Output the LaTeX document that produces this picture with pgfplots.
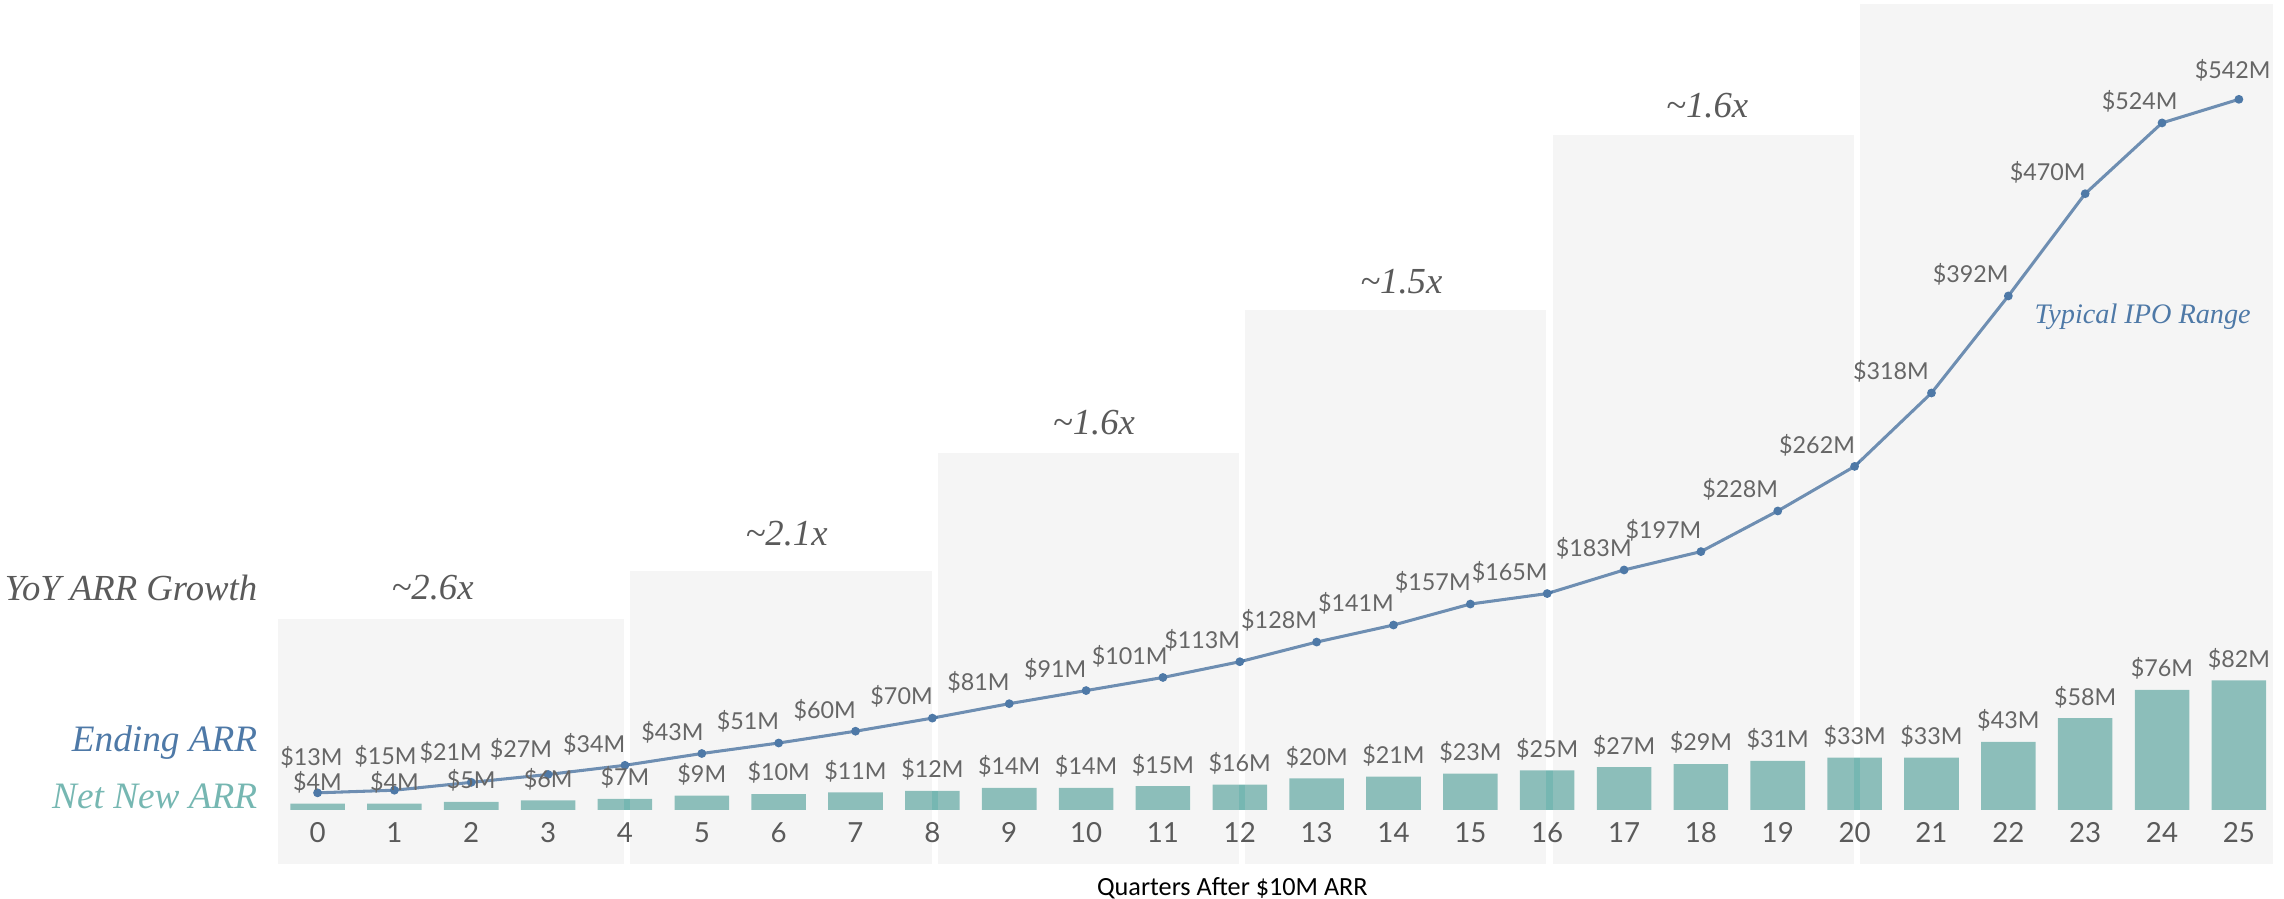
\documentclass[border=0pt]{standalone}
\usepackage{fontspec}
\usepackage{pgfplots}
\pgfplotsset{compat=1.18}
\usepackage{pgfplotstable}
\newfontfamily\lato{Lato}
\newfontfamily\seriff{Liberation Serif}
\newfontfamily\carlito{Carlito}
\definecolor{arrteal}{HTML}{76B7B2}
\definecolor{arrblue}{HTML}{4E79A7}
\definecolor{lblgray}{HTML}{666666}
\definecolor{tickgray}{HTML}{5A5A5A}
\definecolor{anngray}{HTML}{5A5A5A}
\definecolor{bandov}{RGB}{214,214,214}

\pgfplotstableread{
q nn arr dx dy
0 4 13 8.5 5
1 4 15 7.5 4.25
2 5 21 3.5 3
3 6 27 1.25 1.35
4 7 34 0 0
5 9 43 0.5 0
6 10 51 0 0
7 11 60 0 0
8 12 70 0 0
9 14 81 0 0
10 14 91 0 0
11 15 101 1.5 0
12 16 113 0 0
13 20 128 0 0
14 21 141 0 0
15 23 157 0 0
16 25 165 0 0
17 27 183 2.5 0
18 29 197 0 0
19 31 228 0 0
20 33 262 0 0
21 33 318 -1 0
22 43 392 0 0
23 58 470 0 0
24 76 524 5.25 0
25 82 542 10.75 2.5
}\datatable

\pgfplotsset{
  baseaxis/.style={
    x=26.38pt, xmin=-0.512, xmax=25.44,
    clip=false,
    /pgf/number format/assume math mode=true,
  },
}

\begin{document}
\begin{tikzpicture}
% bars
\begin{axis}[baseaxis, y=0.5425pt, ymin=-34.101, ymax=509.677, hide axis]
\addplot[ybar, bar width=0.71, bar shift=0pt, fill=arrteal, draw=none] table[x=q,y=nn]{\datatable};
\end{axis}
% line + bands
\begin{axis}[baseaxis, y=0.45pt, ymin=-41.111, ymax=614.444, hide axis]
\addplot[arrblue, line width=1.05pt, mark=*, mark size=0.95pt, mark options={fill=arrblue}] table[x=q,y=arr]{\datatable};
\fill[bandov, fill opacity=0.235] (axis cs:-0.512,-41.111) rectangle (axis cs:3.99,145.56);
\fill[bandov, fill opacity=0.235] (axis cs:4.07,-41.111) rectangle (axis cs:7.99,182.22);
\fill[bandov, fill opacity=0.235] (axis cs:8.07,-41.111) rectangle (axis cs:11.99,272.22);
\fill[bandov, fill opacity=0.235] (axis cs:12.07,-41.111) rectangle (axis cs:15.99,381.11);
\fill[bandov, fill opacity=0.235] (axis cs:16.07,-41.111) rectangle (axis cs:19.99,514.44);
\fill[bandov, fill opacity=0.235] (axis cs:20.07,-41.111) rectangle (axis cs:25.44,614.444);
\addplot[draw=none, mark=none, point meta=y,
  visualization depends on={\thisrow{dx}\as\dx},
  visualization depends on={\thisrow{dy}\as\dy},
  nodes near coords={\$\pgfmathprintnumber{\pgfplotspointmeta}M},
  every node near coord/.append style={anchor=base east, inner sep=0pt,
    xshift={0.3pt+\dx*1pt}, yshift={4.5pt+\dy*1pt},
    font=\lato\fontsize{8.0}{10}\selectfont, text=lblgray}]
  table[x=q,y=arr]{\datatable};
\end{axis}
% labels, ticks and annotations
\begin{axis}[baseaxis, y=0.5425pt, ymin=-34.101, ymax=509.677,
  axis line style={draw=none}, ytick=\empty, xtick={0,...,25},
  major tick length=0pt,
  xticklabel style={font=\lato\fontsize{9.5}{11}\selectfont, text=tickgray, anchor=base, yshift=7.25pt}]
\addplot[draw=none, mark=none, point meta=y,
  nodes near coords={\$\pgfmathprintnumber{\pgfplotspointmeta}M},
  every node near coord/.append style={anchor=base, inner sep=0pt, yshift=4.5pt,
    font=\lato\fontsize{8.0}{10}\selectfont, text=lblgray}]
  table[x=q,y=nn]{\datatable};
\node[anchor=base east, inner sep=0pt, font=\seriff\itshape\fontsize{12.6}{14}\selectfont, text=anngray] at (axis cs:-0.7771,132.72) {YoY ARR Growth};
\node[anchor=base east, inner sep=0pt, font=\seriff\itshape\fontsize{12.8}{14}\selectfont, text=arrblue] at (axis cs:-0.7771,36.87) {Ending ARR};
\node[anchor=base east, inner sep=0pt, font=\seriff\itshape\fontsize{12.8}{14}\selectfont, text=arrteal] at (axis cs:-0.7771,0.92) {Net New ARR};
\node[anchor=base, inner sep=0pt, font=\seriff\itshape\fontsize{12.6}{14}\selectfont, text=anngray] at (axis cs:1.497,133.18) {\textasciitilde2.6x};
\node[anchor=base, inner sep=0pt, font=\seriff\itshape\fontsize{12.6}{14}\selectfont, text=anngray] at (axis cs:6.103,167.28) {\textasciitilde2.1x};
\node[anchor=base, inner sep=0pt, font=\seriff\itshape\fontsize{12.6}{14}\selectfont, text=anngray] at (axis cs:10.102,237.33) {\textasciitilde1.6x};
\node[anchor=base, inner sep=0pt, font=\seriff\itshape\fontsize{12.6}{14}\selectfont, text=anngray] at (axis cs:14.102,326.73) {\textasciitilde1.5x};
\node[anchor=base, inner sep=0pt, font=\seriff\itshape\fontsize{12.6}{14}\selectfont, text=anngray] at (axis cs:18.082,438.25) {\textasciitilde1.6x};
\node[anchor=base, inner sep=0pt, font=\seriff\itshape\fontsize{9.7}{11}\selectfont, text=arrblue] at (axis cs:23.749,307.83) {Typical IPO Range};
\node[anchor=base, inner sep=0pt, font=\carlito\fontsize{9}{11}\selectfont, text=black] at (axis cs:11.903,-54.38) {Quarters After \$10M ARR};
\coordinate (bbA) at (axis cs:-4.1319,-56.22);
\coordinate (bbB) at (axis cs:25.587,512.44);
\end{axis}
\pgfresetboundingbox
\useasboundingbox (bbA) rectangle (bbB);
\end{tikzpicture}
\end{document}
